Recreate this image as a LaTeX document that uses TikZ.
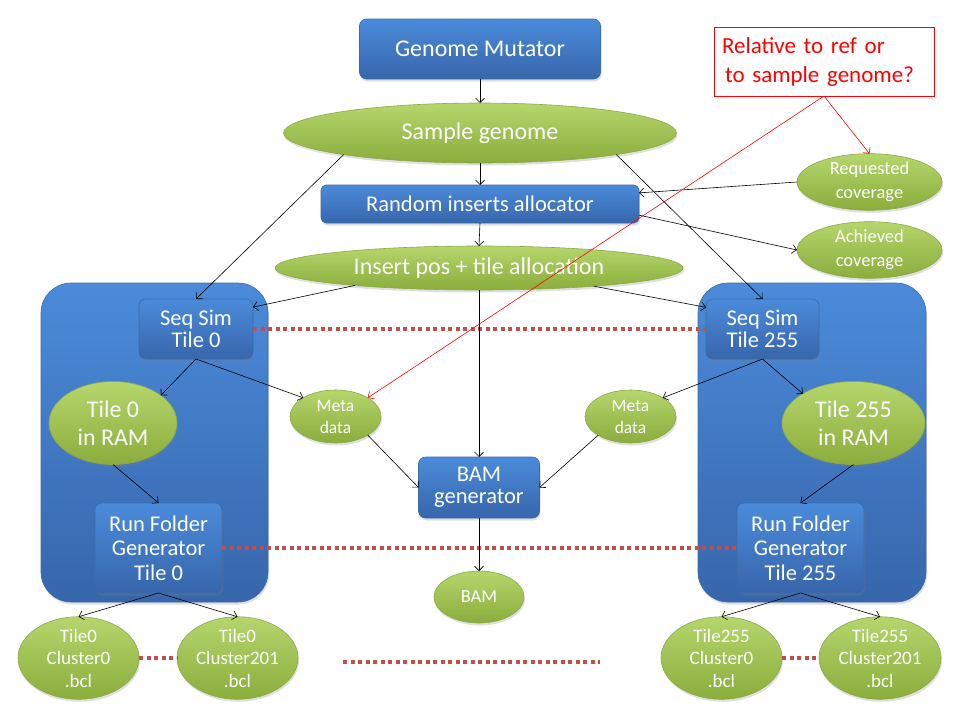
\documentclass[tikz,border=0pt]{standalone}
\usepackage{fontspec}
\setmainfont{Carlito}
\usetikzlibrary{arrows.meta,shapes.geometric,shadows}
\definecolor{btop}{HTML}{4B8BDA}
\definecolor{bbot}{HTML}{3766AB}
\definecolor{bline}{HTML}{3A6CA8}
\definecolor{gtop}{HTML}{B5D66C}
\definecolor{gbot}{HTML}{8AAD3C}
\definecolor{gline}{HTML}{8CAA48}
\definecolor{dotred}{HTML}{C0504D}
\definecolor{redtxt}{HTML}{FF0000}
\newcommand{\fsz}[2]{\fontsize{#1}{#2}\selectfont}
\tikzset{
  shd/.style={drop shadow={opacity=0.25,shadow xshift=1pt,shadow yshift=-2.5pt}},
  bluebox/.style={rectangle,rounded corners=7pt,draw=bline,line width=0.6pt,
    top color=btop,bottom color=bbot,text=white,align=center,inner sep=0pt,outer sep=0pt,shd},
  greenell/.style={ellipse,draw=gline,line width=0.6pt,
    top color=gtop,bottom color=gbot,text=white,align=center,inner sep=0pt,outer sep=0pt,shd},
  container/.style={rectangle,rounded corners=30pt,draw=bline,line width=0.6pt,
    top color=btop,bottom color=bbot,inner sep=0pt,outer sep=0pt,shd},
  arr/.style={-{Straight Barb[length=4.5pt,width=9pt]},line width=0.6pt,black},
  redarr/.style={-{Straight Barb[length=4.5pt,width=9pt]},line width=0.6pt,redtxt},
  dotline/.style={dotred,line width=4pt,dash pattern=on 4pt off 3.5pt},
}
\begin{document}
\begin{tikzpicture}[x=1pt,y=-1pt]
\useasboundingbox (0,0) rectangle (960,720);
% containers
\node[container,minimum width=227pt,minimum height=319pt] (cont0) at (154.5,442.5) {};
\node[container,minimum width=228pt,minimum height=319pt] (cont255) at (812,442.5) {};
% top chain
\node[bluebox,minimum width=241pt,minimum height=60pt,font=\fsz{24}{28}] (gm) at (480,49) {Genome Mutator};
\node[greenell,minimum width=393pt,minimum height=60pt,font=\fsz{24}{28}] (sg) at (480,133) {Sample genome};
\node[bluebox,rounded corners=5pt,minimum width=318pt,minimum height=38pt,font=\fsz{22.5}{26}] (ria) at (480,204) {Random inserts allocator};
\node[greenell,minimum width=408pt,minimum height=44pt,font=\fsz{24}{28}] (ipt) at (479,268) {Insert pos + tile allocation};
% coverage
\node[greenell,minimum width=145pt,minimum height=54pt,font=\fsz{18.5}{24}] (rc) at (869.5,182) {Requested\\coverage};
\node[greenell,minimum width=145pt,minimum height=54pt,font=\fsz{18.5}{24}] (ac) at (869.5,250) {Achieved\\coverage};
% red note
\node[draw=redtxt,line width=0.8pt,fill=white,text=redtxt,align=left,inner sep=0pt,outer sep=0pt,
  minimum width=220pt,minimum height=69pt,text width=204pt,font=\fsz{23}{29}] (rb) at (824,61.5)
  {Relative to ref or\\\hspace*{3pt}to sample genome?};
% seq sims
\node[bluebox,minimum width=114pt,minimum height=60pt,font=\fsz{22.5}{22}] (ss0) at (196,329) {Seq Sim\\Tile 0};
\node[bluebox,minimum width=113pt,minimum height=60pt,font=\fsz{22.5}{22}] (ss255) at (762.5,329) {Seq Sim\\Tile 255};
% RAM
\node[greenell,minimum width=128pt,minimum height=83pt,font=\fsz{24}{28}] (tr0) at (113,423) {Tile 0\\in RAM};
\node[greenell,minimum width=143pt,minimum height=83pt,font=\fsz{24}{28}] (tr255) at (853.5,423) {Tile 255\\in RAM};
% meta
\node[greenell,minimum width=91pt,minimum height=53pt,font=\fsz{17.5}{22}] (md0) at (335.5,416.5) {Meta\\data};
\node[greenell,minimum width=91pt,minimum height=53pt,font=\fsz{17.5}{22}] (md255) at (630.5,416.5) {Meta\\data};
% BAM
\node[bluebox,minimum width=121pt,minimum height=61pt,font=\fsz{22.5}{22}] (bamg) at (479,487.5) {BAM\\generator};
\node[greenell,minimum width=90pt,minimum height=52pt,font=\fsz{18.5}{20}] (bam) at (479,597) {BAM};
% run folders
\node[bluebox,minimum width=127pt,minimum height=90pt,font=\fsz{22.5}{24.5}] (rf0) at (158.5,548) {Run Folder\\Generator\\Tile 0};
\node[bluebox,minimum width=127pt,minimum height=90pt,font=\fsz{22.5}{24.5}] (rf255) at (800.5,548) {Run Folder\\Generator\\Tile 255};
% clusters
\node[greenell,minimum width=121pt,minimum height=82pt,font=\fsz{19}{22.5}] (c00) at (78.5,658) {Tile0\\Cluster0\\.bcl};
\node[greenell,minimum width=121pt,minimum height=82pt,font=\fsz{19}{22.5}] (c0201) at (237.5,658) {Tile0\\Cluster201\\.bcl};
\node[greenell,minimum width=121pt,minimum height=82pt,font=\fsz{19}{22.5}] (c2550) at (721.5,658) {Tile255\\Cluster0\\.bcl};
\node[greenell,minimum width=122pt,minimum height=82pt,font=\fsz{19}{22.5}] (c255201) at (880,658) {Tile255\\Cluster201\\.bcl};
% free dotted line ends
\coordinate (dl) at (343,662);
\coordinate (dr) at (600,662);
% dotted lines
\draw[dotline] (ss0.east) -- (ss255.west);
\draw[dotline] (rf0.east) -- (rf255.west);
\draw[dotline] (c00.east) -- (c0201.west);
\draw[dotline] (c2550.east) -- (c255201.west);
\draw[dotline] (dl) -- (dr);
% arrows
\draw[arr] (gm.south) -- (sg.north);
\draw[arr] (sg.south) -- (ria.north);
\draw[arr] (ria.south) -- (ipt.north);
\draw[arr] (sg.189) -- (ss0.north);
\draw[arr] (sg.351) -- (ss255.north);
\draw[arr] (ipt.188.5) -- (ss0.21);
\draw[arr] (ipt.351.5) -- (ss255.159);
\draw[arr] (ipt.south) -- (bamg.north);
\draw[arr] (rc.west) -- (ria.4);
\draw[arr] (ria.356) -- (ac.west);
\draw[arr] (ss0.south) -- (tr0.30);
\draw[arr] (ss0.south) -- (md0.150);
\draw[arr] (tr0.south) -- (rf0.north);
\draw[arr] (md0.330) -- (bamg.west);
\draw[arr] (ss255.south) -- (md255.30);
\draw[arr] (ss255.south) -- (tr255.150);
\draw[arr] (md255.210) -- (bamg.east);
\draw[arr] (tr255.south) -- (rf255.north);
\draw[arr] (bamg.south) -- (bam.north);
\draw[arr] (rf0.south) -- (c00.north);
\draw[arr] (rf0.south) -- (c0201.north);
\draw[arr] (rf255.south) -- (c2550.north);
\draw[arr] (rf255.south) -- (c255201.north);
% red arrows
\draw[redarr] (rb.south) -- (rc.north);
\draw[redarr] (rb.south) -- (md0.30);
\end{tikzpicture}
\end{document}
